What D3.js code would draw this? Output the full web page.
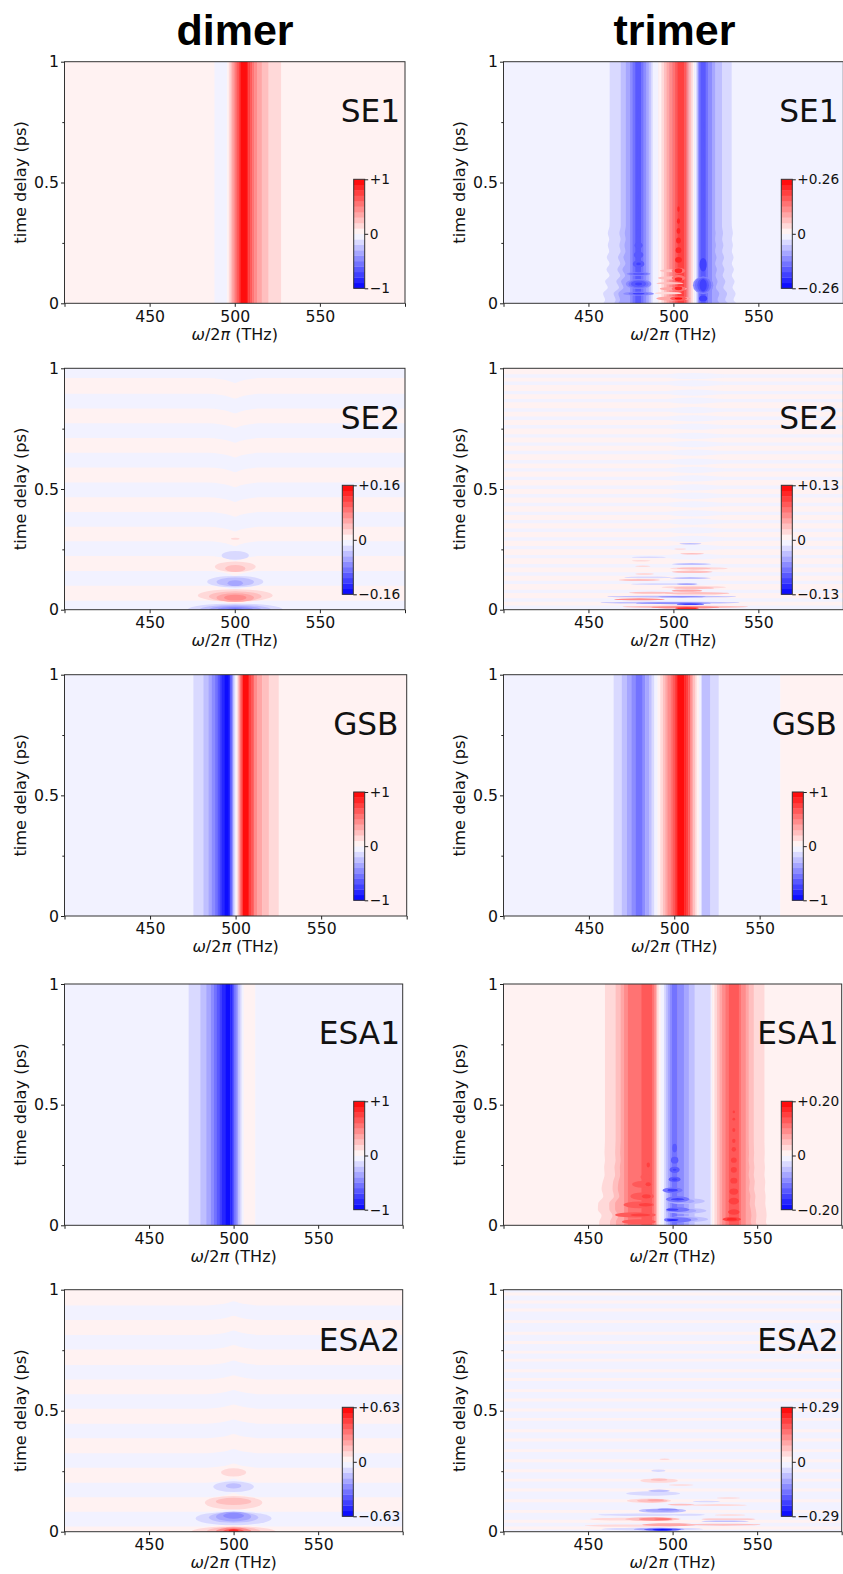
<!DOCTYPE html>
<html lang="en">
<head>
<meta charset="utf-8">
<title>dimer / trimer</title>
<script src="https://d3js.org/d3.v7.min.js"></script>
<style>
  html, body { margin: 0; padding: 0; background: #fff; overflow: hidden; }
  text { font-family: "DejaVu Sans", sans-serif; fill: #111; }
</style>
</head>
<body>
<svg id="fig" width="843" height="1574"></svg>
<script>
// ---- tick values and labels
const xTicks = [400, 450, 500, 550, 600];
const xTickLabels = ["", "450", "500", "550", ""];
const yTicks = [0, 0.5, 1];
const yTickLabels = ["0", "0.5", "1"];
const yMinorTicks = [0.25, 0.75];
const columnTitles = ["dimer", "trimer"];

// ---- band index: +n is the n-th contour band above zero, -n the n-th below

// dimer SE1: spectrum does not change with delay
const dimerSE1Edges = [400, 488.1, 495.4, 496.5, 497.5, 498.3, 499.3, 500.2, 501.2, 502.2, 502.8, 503.3, 507.1, 508, 509, 510.2, 511.5, 513.3, 515.9, 519.8, 527.3, 600];
const dimerSE1Bands = [1, -1, 1, 2, 3, 4, 5, 6, 7, 8, 9, 10, 9, 8, 7, 6, 5, 4, 3, 2, 1];

// dimer GSB
const dimerGSBEdges = [400, 475.3, 481.2, 484.1, 486.1, 488, 489.4, 490.6, 491.8, 493.3, 495.9, 496.9, 497.7, 498.4, 499, 499.8, 500.4, 501.2, 502.3, 503.3, 504.3, 507.6, 509, 510.6, 512.5, 515.5, 519.4, 525.2, 600];
const dimerGSBBands = [-1, -2, -3, -4, -5, -6, -7, -8, -9, -10, -9, -7, -5, -3, -2, -1, 1, 3, 6, 8, 10, 8, 7, 5, 4, 3, 2, 1];

// dimer ESA1
const dimerESA1Edges = [400, 473.4, 480.3, 483.8, 486.6, 488.4, 490.1, 491.5, 493.1, 495, 498, 499, 500, 501.2, 502.4, 503.6, 504.7, 505.9, 512.8, 600];
const dimerESA1Bands = [-1, -2, -3, -4, -5, -6, -7, -8, -9, -10, -9, -8, -6, -5, -3, -2, -1, 1, -1];

// trimer GSB
const trimerGSBEdges = [400, 464.5, 469.3, 472.3, 475, 477.5, 481.4, 483, 485.4, 486.7, 488.3, 490.2, 491.8, 493.4, 494.7, 496.1, 497.7, 499, 500.4, 501.4, 502, 505.9, 506.8, 508.2, 509.4, 510.2, 511.1, 512.1, 513.1, 514.5, 516, 521.1, 526, 562.1, 600];
const trimerGSBBands = [-1, -2, -3, -4, -5, -6, -5, -4, -3, -2, -1, 1, 2, 3, 4, 5, 6, 7, 8, 9, 10, 9, 8, 7, 5, 4, 3, 2, 1, -1, -3, -2, -1, 1];

// trimer SE1: core stripes, rippling outer contours, beads at short delay
const trimerSE1Edges = [400, 600];
const trimerSE1Bands = [-1];
const trimerSE1CoreEdges = [474.5, 476, 477.5, 481, 482.4, 484, 485.5, 486.7, 487.8, 491, 493, 494.5, 496, 497.6, 499.4, 501, 502.4, 506.3, 507.6, 508.2, 508.8, 509.4, 510.4, 511.4, 512.2, 513.3, 514, 514.4, 514.7, 515, 516, 519, 520.4, 522.7, 524.3];
const trimerSE1CoreBands = [-5, -6, -7, -6, -5, -4, -3, -2, -1, 1, 2, 3, 4, 5, 6, 7, 8, 7, 6, 5, 4, 3, 2, 1, -1, -2, -3, -4, -5, -6, -7, -6, -5, -4];
const trimerSE1RippleDelays = [1, 0.35, 0.32, 0.29, 0.265, 0.24, 0.215, 0.19, 0.165, 0.14, 0.115, 0.09, 0.065, 0.04, 0.015, 0];
const trimerSE1Ripple2L = [462.5, 462.5, 462.4, 461.4, 462.2, 461.4, 462.2, 460.8, 462.4, 460.6, 462.4, 459.8, 461.4, 458.6, 459.8, 458.6];
const trimerSE1Ripple2R = [534.3, 534.3, 534.4, 535, 534.4, 535, 534.4, 535.4, 534.4, 535.6, 534.4, 536, 534.8, 536.6, 535.4, 537.4];
const trimerSE1Ripple3L = [469, 469, 469, 468.2, 468.9, 468.2, 468.9, 467.4, 468.7, 467, 468.7, 466.4, 468, 464.8, 466, 465];
const trimerSE1Ripple3R = [528.6, 528.6, 528.6, 529.2, 528.7, 529.4, 528.7, 529.8, 528.8, 530, 529, 530.6, 529.4, 531.6, 530.5, 532.4];
const trimerSE1Ripple4L = [472, 472, 472, 471.4, 471.9, 471.2, 471.8, 470.6, 471.8, 470, 471.6, 469.2, 470.6, 467.6, 468.6, 467.4];
const trimerSE1Ripple4R = [524.3, 524.3, 524.3, 524.8, 524.4, 525, 524.4, 525.4, 524.5, 525.6, 524.8, 526, 525, 527, 526, 527.4];
// [band, frequency, delay, half width, half height]
const trimerSE1Blobs = [
  [-5, 479.5, 0.08, 7.5, 0.02], [-6, 479.5, 0.08, 6, 0.018], [-7, 479.5, 0.08, 4.5, 0.014], [-8, 479.5, 0.08, 2, 0.006],
  [-5, 479.5, 0.122, 7, 0.008], [-6, 479.5, 0.122, 5.5, 0.007], [-7, 479.5, 0.122, 3.5, 0.005],
  [-5, 479.5, 0.04, 9, 0.008], [-6, 479.5, 0.04, 6, 0.006], [-8, 479.5, 0.04, 3.5, 0.004],
  [-7, 479.5, 0.163, 3.4, 0.015], [-8, 479.5, 0.163, 1.4, 0.006],
  [-7, 479.5, 0.2, 2.8, 0.013], [-7, 479.5, 0.24, 2.4, 0.012], [-7, 479.5, 0.29, 1.2, 0.018], [-7, 479.4, 0.6, 0.4, 0.26],
  [-5, 517.5, 0.075, 6, 0.036], [-6, 517.5, 0.075, 4.8, 0.034], [-7, 517.5, 0.075, 3.4, 0.03], [-8, 517.5, 0.075, 2.1, 0.026],
  [-8, 517.5, 0.16, 2.1, 0.028], [-8, 517.5, 0.02, 2.4, 0.012],
  [-7, 518, 0.55, 0.5, 0.2],
  [3, 498, 0.135, 6, 0.006], [3, 499, 0.105, 8, 0.007], [3, 498, 0.083, 8, 0.005], [4, 500, 0.06, 8, 0.007], [2, 497, 0.042, 8, 0.005], [4, 500, 0.02, 10, 0.009],
  [9, 503, 0.39, 0.7, 0.012], [9, 503, 0.34, 0.9, 0.012], [9, 503, 0.3, 1.1, 0.012], [9, 503, 0.26, 1.4, 0.012], [9, 503, 0.22, 1.7, 0.012], [9, 503, 0.18, 2, 0.012],
  [6, 503, 0.135, 4, 0.012], [9, 503, 0.135, 2.2, 0.01], [6, 503, 0.105, 4, 0.012], [9, 503, 0.1, 2.2, 0.008], [6, 503, 0.06, 4, 0.012], [9, 503, 0.062, 2.2, 0.008], [7, 503, 0.02, 5, 0.009], [10, 503, 0.02, 2.2, 0.004]
];

// dimer SE2
const dimerSE2StripeCentres = [0.99, 0.864, 0.742, 0.62, 0.4965, 0.3743, 0.2528, 0.1298, 0.007];
const dimerSE2StripeWidth = 0.061;
const dimerSE2KinkFreq = [400, 484, 492, 497, 500.3, 503, 508, 516, 600];
const dimerSE2Kink = [0, 0, -0.005, -0.013, -0.02, -0.013, -0.005, 0, 0];
const dimerSE2Blobs = [
  [2, 500.3, 0.294, 2.5, 0.004],
  [-2, 500.3, 0.225, 8, 0.018],
  [2, 500.3, 0.178, 12, 0.022], [3, 500.3, 0.171, 6, 0.0145],
  [-2, 500.3, 0.116, 16.5, 0.024], [-3, 500.3, 0.115, 11, 0.018], [-4, 500.3, 0.11, 4.5, 0.012],
  [2, 500.3, 0.059, 22, 0.026], [3, 500.3, 0.055, 15.5, 0.021], [4, 500.3, 0.05, 11, 0.018], [5, 500.3, 0.05, 6.6, 0.012],
  [-2, 500.3, 0, 28, 0.026], [-3, 500.3, 0, 21, 0.02], [-4, 500.3, 0, 15.5, 0.016], [-5, 500.3, 0, 10.5, 0.011], [-6, 500.3, 0, 5, 0.006]
];

// dimer ESA2
const dimerESA2StripeCentres = [0.9044, 0.783, 0.659, 0.538, 0.416, 0.294, 0.172, 0.052];
const dimerESA2StripeWidth = 0.06;
const dimerESA2KinkFreq = [400, 484, 492, 497, 500, 503, 508, 516, 600];
const dimerESA2Kink = [0, 0, 0.005, 0.012, 0.018, 0.012, 0.005, 0, 0];
const dimerESA2Blobs = [
  [2, 500, 0.245, 7.4, 0.017],
  [-2, 500, 0.186, 12, 0.022], [-3, 500, 0.189, 4.6, 0.011],
  [2, 500, 0.12, 17, 0.028], [3, 500, 0.125, 10.5, 0.015],
  [-2, 500, 0.055, 22.5, 0.028], [-3, 500, 0.059, 14.6, 0.022], [-4, 500, 0.062, 10.4, 0.02], [-5, 500, 0.066, 6.2, 0.012],
  [2, 500, 0, 25, 0.022], [3, 500, 0, 16, 0.02], [5, 500, 0, 10.5, 0.017], [7, 500, 0, 6.4, 0.012], [9, 500, 0, 3, 0.01]
];

// trimer SE2
const trimerSE2StripeCentres = [0.968, 0.938, 0.899, 0.866, 0.827, 0.793, 0.758, 0.72, 0.686, 0.651, 0.613, 0.579, 0.544, 0.507, 0.472, 0.436, 0.399, 0.365, 0.329, 0.293, 0.257, 0.22, 0.182, 0.148, 0.113, 0.076, 0.04, 0.01];
const trimerSE2StripeWidth = 0.014;
const trimerSE2KinkFreq = [400, 496, 503, 512, 522, 530, 600];
const trimerSE2Kink = [0, 0, 0.004, 0.006, 0.003, 0, 0];
const trimerSE2Blobs = [
  [-3, 510, 0.273, 6.5, 0.003], [2, 504, 0.251, 3.5, 0.003], [3, 511, 0.232, 7, 0.003], [-2, 485.5, 0.217, 10, 0.003],
  [2, 481, 0.203, 5.5, 0.003], [-3, 510.7, 0.189, 11.5, 0.004], [2, 482, 0.18, 4.5, 0.003], [2, 515, 0.171, 17, 0.005], [3, 512, 0.171, 10, 0.004],
  [2, 483, 0.148, 5.5, 0.004], [3, 511, 0.157, 12, 0.005], [-2, 485, 0.134, 14, 0.004], [-3, 510, 0.131, 12, 0.004],
  [3, 480, 0.123, 12, 0.004], [-2, 495, 0.106, 20, 0.004], [-4, 508, 0.106, 6, 0.004], [2, 512, 0.093, 19, 0.006], [3, 512, 0.09, 12, 0.005],
  [4, 508, 0.079, 9, 0.005], [3, 487, 0.07, 13, 0.004], [3, 514, 0.068, 19, 0.005], [-3, 499, 0.054, 38, 0.004],
  [-5, 505, 0.054, 14, 0.003], [5, 480, 0.043, 15, 0.004], [-3, 498, 0.029, 41, 0.004], [-5, 500, 0.027, 22, 0.004], [-8, 510, 0.023, 8, 0.004],
  [3, 507, 0.012, 37, 0.005], [5, 507, 0.01, 20, 0.005], [9, 508, 0.006, 7, 0.004], [-3, 505, 0, 30, 0.002]
];

// trimer ESA2
const trimerESA2StripeCentres = [0.982, 0.949, 0.916, 0.868, 0.82, 0.782, 0.742, 0.709, 0.665, 0.629, 0.583, 0.544, 0.503, 0.464, 0.417, 0.379, 0.335, 0.293, 0.252, 0.213, 0.172, 0.128, 0.084, 0.043, 0.015];
const trimerESA2StripeWidth = 0.012;
const trimerESA2KinkFreq = [400, 600];
const trimerESA2Kink = [0, 0];
const trimerESA2Blobs = [
  [2, 495.3, 0.299, 3, 0.003], [-2, 491.6, 0.252, 4.2, 0.005], [2, 492, 0.211, 11, 0.009], [3, 492, 0.215, 5, 0.005],
  [2, 505, 0.193, 7.4, 0.003], [-2, 488.5, 0.158, 16, 0.009], [-3, 492, 0.169, 6.4, 0.005], [2, 533, 0.139, 7, 0.003],
  [2, 486, 0.128, 13, 0.009], [3, 488, 0.128, 9, 0.007], [4, 490, 0.13, 5, 0.004], [3, 505, 0.112, 8, 0.004], [-2, 520, 0.125, 8, 0.003], [2, 527, 0.11, 17, 0.004],
  [-2, 482, 0.07, 26, 0.005], [-3, 494, 0.087, 14, 0.009], [-4, 494, 0.088, 10, 0.007], [-5, 497, 0.092, 6, 0.004], [-2, 510, 0.07, 9, 0.004], [2, 534, 0.069, 9, 0.003],
  [2, 478, 0.052, 27, 0.006], [3, 488, 0.052, 16, 0.008], [5, 490, 0.052, 10, 0.007], [6, 494, 0.052, 5, 0.004], [3, 533, 0.052, 16, 0.003], [-3, 531, 0.043, 14, 0.003],
  [2, 478, 0.025, 30, 0.005], [4, 498, 0.029, 16, 0.006], [3, 530, 0.029, 22, 0.004],
  [-2, 488, 0.011, 30, 0.006], [-4, 492, 0.01, 15, 0.006], [-7, 494, 0.009, 11, 0.005], [-10, 494, 0.008, 6, 0.003]
];

// trimer ESA1
const trimerESA1Edges = [400, 600];
const trimerESA1Bands = [1];
const trimerESA1CoreEdges = [471.3, 473.6, 481.5, 488, 489, 490, 490.6, 491.7, 492.9, 494.9, 496, 497.2, 498.4, 499.6, 502.8, 506.7, 509.6, 513, 522.4, 523.4, 524.8, 526.4, 527.8, 529.3, 531.3, 533.3, 539.2, 540.5, 543];
const trimerESA1CoreBands = [5, 6, 7, 6, 5, 4, 2, 1, -1, -2, -3, -4, -5, -6, -5, -4, -3, -2, -1, 1, 2, 3, 4, 5, 6, 7, 6, 5];
const trimerESA1RippleDelays = [1, 0.35, 0.3, 0.27, 0.24, 0.21, 0.18, 0.15, 0.12, 0.09, 0.065, 0.04, 0.015, 0];
const trimerESA1Ripple2L = [460, 460, 459.7, 460, 459.5, 459.8, 458.7, 458, 459, 456, 455.8, 458, 456.6, 456.5];
const trimerESA1Ripple2R = [554.3, 554.3, 554.5, 554.3, 554.6, 554.3, 554.8, 554.5, 555, 554.8, 555.3, 555.6, 555.2, 555.9];
const trimerESA1Ripple3L = [466.3, 466.3, 466, 466.3, 465.6, 466, 464.8, 464.5, 465.3, 462.5, 462.6, 464.5, 463, 463];
const trimerESA1Ripple3R = [548, 548, 548.2, 548, 548.4, 548, 548.6, 548.2, 549, 548.6, 549.2, 549.6, 549.2, 550];
const trimerESA1Ripple4L = [469.3, 469.3, 469, 469.3, 468.8, 469, 468, 467.6, 468.5, 466, 466, 468, 466.5, 466.5];
const trimerESA1Ripple4R = [545, 545, 545.2, 545, 545.4, 545, 545.6, 545.2, 546, 545.6, 546.2, 546.6, 546.2, 547];
const trimerESA1Blobs = [
  [-3, 508, 0.1, 11, 0.012], [-3, 508, 0.06, 12, 0.012], [-3, 508, 0.025, 13, 0.012],
  [-4, 505, 0.1, 8, 0.01], [-4, 505, 0.06, 9, 0.01], [-4, 505, 0.025, 10, 0.01],
  [8, 485.6, 0.25, 1, 0.01], [7, 484, 0.2, 3, 0.012],
  [7, 482, 0.17, 6, 0.014], [8, 485.6, 0.17, 1.6, 0.008], [7, 482, 0.12, 7, 0.016], [8, 484.5, 0.12, 2.6, 0.009],
  [7, 480, 0.085, 9, 0.014], [8, 484, 0.085, 4, 0.007], [7, 478, 0.043, 12, 0.011], [8, 481, 0.043, 6, 0.006], [7, 480, 0.015, 10, 0.01],
  [8, 536.2, 0.47, 0.7, 0.006], [8, 536.2, 0.44, 0.8, 0.006], [8, 536.2, 0.395, 0.9, 0.008], [8, 536.2, 0.35, 1, 0.009], [8, 536.2, 0.315, 1.3, 0.01],
  [8, 536.2, 0.27, 1.7, 0.011], [8, 536.2, 0.23, 1.8, 0.012], [8, 536.2, 0.185, 2.1, 0.012], [8, 536.2, 0.14, 2.6, 0.013], [8, 536.2, 0.1, 3, 0.014],
  [8, 536.2, 0.055, 3.4, 0.011], [8, 535, 0.025, 5.5, 0.009], [9, 535, 0.025, 3, 0.005],
  [-7, 501.2, 0.32, 1.4, 0.018], [-7, 501.2, 0.27, 2.2, 0.014], [-7, 501.2, 0.23, 3, 0.013], [-8, 501.2, 0.23, 1.2, 0.004],
  [-7, 501.2, 0.19, 3.5, 0.011], [-8, 501.2, 0.19, 1.6, 0.005], [-6, 500, 0.145, 6, 0.012], [-8, 500, 0.145, 3, 0.006],
  [-6, 503, 0.108, 7, 0.012], [-8, 503, 0.108, 4, 0.005], [-6, 503, 0.065, 7, 0.01], [-8, 500, 0.065, 3.5, 0.005],
  [-6, 503, 0.022, 8, 0.011], [-9, 500, 0.022, 3.5, 0.004]
];

// colorbar limits and labels, panel labels
const panelNames = ["SE1", "SE1", "SE2", "SE2", "GSB", "GSB", "ESA1", "ESA1", "ESA2", "ESA2"];
const barLimits = [1, 0.26, 0.16, 0.13, 1, 1, 1, 0.2, 0.63, 0.29];
const barTopLabels = ["+1", "+0.26", "+0.16", "+0.13", "+1", "+1", "+1", "+0.20", "+0.63", "+0.29"];
const barBottomLabels = ["\u22121", "\u22120.26", "\u22120.16", "\u22120.13", "\u22121", "\u22121", "\u22121", "\u22120.20", "\u22120.63", "\u22120.29"];

// ---- layout (pixels), kept apart from the values
const boxes = [
  {x0: 64.5, x1: 405, y0: 303.3, y1: 61.7, bx: 353.7, by0: 288.3, by1: 179.3, nameX: 400, nameY: 122},
  {x0: 503.5, x1: 843.3, y0: 303.3, y1: 61.7, bx: 781.3, by0: 288.3, by1: 179.3, nameX: 838.5, nameY: 122},
  {x0: 64.5, x1: 405, y0: 609.7, y1: 368.3, bx: 342.3, by0: 594.3, by1: 485.3, nameX: 400, nameY: 428.7},
  {x0: 503.5, x1: 843.3, y0: 609.7, y1: 368.3, bx: 781.3, by0: 594.3, by1: 485.3, nameX: 838.5, nameY: 428.7},
  {x0: 64.5, x1: 406.7, y0: 916, y1: 674.7, bx: 353.7, by0: 900.3, by1: 792, nameX: 398.5, nameY: 734.7},
  {x0: 503.5, x1: 845, y0: 916, y1: 674.7, bx: 792.3, by0: 900.3, by1: 792, nameX: 837, nameY: 734.7},
  {x0: 64.5, x1: 402.7, y0: 1225.3, y1: 984, bx: 353.7, by0: 1209.7, by1: 1101.3, nameX: 400, nameY: 1044},
  {x0: 503.5, x1: 841.7, y0: 1225.3, y1: 984, bx: 781.3, by0: 1209.7, by1: 1101.3, nameX: 838.5, nameY: 1044},
  {x0: 64.5, x1: 402.7, y0: 1531.7, y1: 1289.7, bx: 342.3, by0: 1516.3, by1: 1407.3, nameX: 400, nameY: 1351},
  {x0: 503.5, x1: 841.7, y0: 1531.7, y1: 1289.7, bx: 781.3, by0: 1516.3, by1: 1407.3, nameX: 838.5, nameY: 1351}
];

const fields = [
  {edges: dimerSE1Edges, bands: dimerSE1Bands},
  {edges: trimerSE1Edges, bands: trimerSE1Bands, coreEdges: trimerSE1CoreEdges, coreBands: trimerSE1CoreBands,
    rippleDelays: trimerSE1RippleDelays, ripples: [[-2, trimerSE1Ripple2L, trimerSE1Ripple2R], [-3, trimerSE1Ripple3L, trimerSE1Ripple3R], [-4, trimerSE1Ripple4L, trimerSE1Ripple4R]], blobs: trimerSE1Blobs},
  {edges: [400, 600], bands: [1], stripes: dimerSE2StripeCentres, stripeWidth: dimerSE2StripeWidth, stripeBand: -1, kinkFreq: dimerSE2KinkFreq, kink: dimerSE2Kink, kinkBoth: true, blobs: dimerSE2Blobs},
  {edges: [400, 600], bands: [1], stripes: trimerSE2StripeCentres, stripeWidth: trimerSE2StripeWidth, stripeBand: -1, kinkFreq: trimerSE2KinkFreq, kink: trimerSE2Kink, blobs: trimerSE2Blobs},
  {edges: dimerGSBEdges, bands: dimerGSBBands},
  {edges: trimerGSBEdges, bands: trimerGSBBands},
  {edges: dimerESA1Edges, bands: dimerESA1Bands},
  {edges: trimerESA1Edges, bands: trimerESA1Bands, coreEdges: trimerESA1CoreEdges, coreBands: trimerESA1CoreBands,
    rippleDelays: trimerESA1RippleDelays, ripples: [[2, trimerESA1Ripple2L, trimerESA1Ripple2R], [3, trimerESA1Ripple3L, trimerESA1Ripple3R], [4, trimerESA1Ripple4L, trimerESA1Ripple4R]], blobs: trimerESA1Blobs},
  {edges: [400, 600], bands: [1], stripes: dimerESA2StripeCentres, stripeWidth: dimerESA2StripeWidth, stripeBand: -1, kinkFreq: dimerESA2KinkFreq, kink: dimerESA2Kink, kinkBoth: true, blobs: dimerESA2Blobs},
  {edges: [400, 600], bands: [-1], stripes: trimerESA2StripeCentres, stripeWidth: trimerESA2StripeWidth, stripeBand: 1, kinkFreq: trimerESA2KinkFreq, kink: trimerESA2Kink, blobs: trimerESA2Blobs}
];

const svg = d3.select("#fig");
const bwr = d3.scaleLinear().domain([-1, 0, 1]).range(["#0000ff", "#ffffff", "#ff0000"]);
const bandColor = b => bwr(Math.sign(b) * (Math.abs(b) - 0.5) / 10);

function drawStripes(g, x, edges, bands, y) {
  // small overlap so that antialiased edges do not leave seams
  g.selectAll(null).data(bands).join("rect")
    .attr("x", (d, i) => x(edges[i]))
    .attr("width", (d, i) => x(edges[i + 1]) - x(edges[i]) + 0.4)
    .attr("y", y.range()[1])
    .attr("height", y.range()[0] - y.range()[1])
    .attr("fill", d => bandColor(d));
}

function drawPanel(field, box, i) {
  const x = d3.scaleLinear().domain([400, 600]).range([box.x0, box.x1]);
  const y = d3.scaleLinear().domain([0, 1]).range([box.y0, box.y1]);
  const clipId = "clip" + i;
  svg.append("clipPath").attr("id", clipId).append("rect")
    .attr("x", box.x0).attr("y", box.y1).attr("width", box.x1 - box.x0).attr("height", box.y0 - box.y1);
  const g = svg.append("g").attr("clip-path", `url(#${clipId})`);

  drawStripes(g, x, field.edges, field.bands, y);

  // horizontal beats
  if (field.stripes) {
    field.stripes.forEach(c => {
      const area = d3.area().curve(d3.curveMonotoneX)
        .x((d, k) => x(field.kinkFreq[k]))
        .y0((d, k) => y(c - field.stripeWidth / 2 + (field.kinkBoth ? field.kink[k] : -field.kink[k])))
        .y1((d, k) => y(c + field.stripeWidth / 2 + field.kink[k]));
      g.append("path").attr("d", area(field.kinkFreq)).attr("fill", bandColor(field.stripeBand));
    });
  }

  // outer contours that ripple at short delay
  if (field.ripples) {
    field.ripples.forEach(([band, left, right]) => {
      const area = d3.area().curve(d3.curveMonotoneY)
        .y((d, k) => y(field.rippleDelays[k]))
        .x0((d, k) => x(left[k]))
        .x1((d, k) => x(right[k]));
      g.append("path").attr("d", area(field.rippleDelays)).attr("fill", bandColor(band));
    });
    drawStripes(g, x, field.coreEdges, field.coreBands, y);
  }

  if (field.blobs) {
    g.selectAll("ellipse").data(field.blobs).join("ellipse")
      .attr("cx", d => x(d[1]))
      .attr("cy", d => y(d[2]))
      .attr("rx", d => x(d[1] + d[3]) - x(d[1]))
      .attr("ry", d => y(d[2]) - y(d[2] + d[4]))
      .attr("fill", d => bandColor(d[0]));
  }

  // frame
  svg.append("rect").attr("x", box.x0).attr("y", box.y1)
    .attr("width", box.x1 - box.x0).attr("height", box.y0 - box.y1)
    .attr("fill", "none").attr("stroke", "#333").attr("stroke-width", 1);

  // axes
  const xAxis = svg.append("g").attr("transform", `translate(0,${box.y0})`)
    .call(d3.axisBottom(x).tickValues(xTicks).tickFormat((d, k) => xTickLabels[k]).tickSize(3.5).tickPadding(3.6));
  const yAxis = svg.append("g").attr("transform", `translate(${box.x0},0)`)
    .call(d3.axisLeft(y).tickValues(yTicks).tickFormat((d, k) => yTickLabels[k]).tickSize(3.5).tickPadding(2));
  const yMinor = svg.append("g").attr("transform", `translate(${box.x0},0)`)
    .call(d3.axisLeft(y).tickValues(yMinorTicks).tickFormat("").tickSize(2.2));
  [xAxis, yAxis, yMinor].forEach(a => {
    a.attr("font-family", null).attr("font-size", null);
    a.select(".domain").remove();
    a.selectAll("line").attr("stroke", "#222");
    a.selectAll("text").attr("font-size", "15.7px").attr("fill", "#111");
  });

  // axis titles
  const xTitle = svg.append("text")
    .attr("x", x(500)).attr("y", box.y0 + 36.4)
    .attr("text-anchor", "middle").attr("font-size", "16px");
  xTitle.append("tspan").attr("font-style", "italic").text("\u03c9");
  xTitle.append("tspan").text("/2");
  xTitle.append("tspan").attr("font-style", "italic").text("\u03c0");
  xTitle.append("tspan").text(" (THz)");
  svg.append("text")
    .attr("transform", `translate(${box.x0 - 38.5},${(box.y0 + box.y1) / 2}) rotate(-90)`)
    .attr("text-anchor", "middle").attr("font-size", "16.2px").text("time delay (ps)");

  // process name
  svg.append("text").attr("x", box.nameX).attr("y", box.nameY)
    .attr("text-anchor", "end").attr("font-size", "31.2px").text(panelNames[i]);

  // colorbar, 20 levels
  const limit = barLimits[i];
  const barY = d3.scaleLinear().domain([-limit, limit]).range([box.by0, box.by1]);
  const barBands = d3.range(-10, 11).filter(b => b !== 0);
  const barWidth = 11;
  svg.append("g").selectAll("rect").data(barBands).join("rect")
    .attr("x", box.bx).attr("width", barWidth)
    .attr("y", b => barY((b > 0 ? b : b + 1) / 10 * limit))
    .attr("height", b => barY(((b > 0 ? b : b + 1) - 1) / 10 * limit) - barY((b > 0 ? b : b + 1) / 10 * limit) + 0.3)
    .attr("fill", b => bandColor(b));
  svg.append("rect").attr("x", box.bx).attr("y", box.by1).attr("width", barWidth).attr("height", box.by0 - box.by1)
    .attr("fill", "none").attr("stroke", "#333").attr("stroke-width", 1);
  const barLabels = [barBottomLabels[i], "0", barTopLabels[i]];
  const barAxis = svg.append("g").attr("transform", `translate(${box.bx + barWidth},0)`)
    .call(d3.axisRight(barY).tickValues([-limit, 0, limit]).tickFormat((d, k) => barLabels[k]).tickSize(3.5).tickPadding(1.5));
  barAxis.attr("font-family", null).attr("font-size", null);
  barAxis.select(".domain").remove();
  barAxis.selectAll("line").attr("stroke", "#222");
  barAxis.selectAll("text").attr("font-size", "13.7px").attr("fill", "#111");
}

fields.forEach((f, i) => drawPanel(f, boxes[i], i));

// column titles
svg.selectAll(null).data(columnTitles).join("text")
  .attr("x", (d, i) => [235, 674.5][i]).attr("y", 45)
  .attr("text-anchor", "middle")
  .style("font-family", "'Liberation Sans', Arial, sans-serif")
  .style("font-weight", "bold").style("font-size", "43px").style("fill", "#000")
  .text(d => d);
</script>
</body>
</html>
